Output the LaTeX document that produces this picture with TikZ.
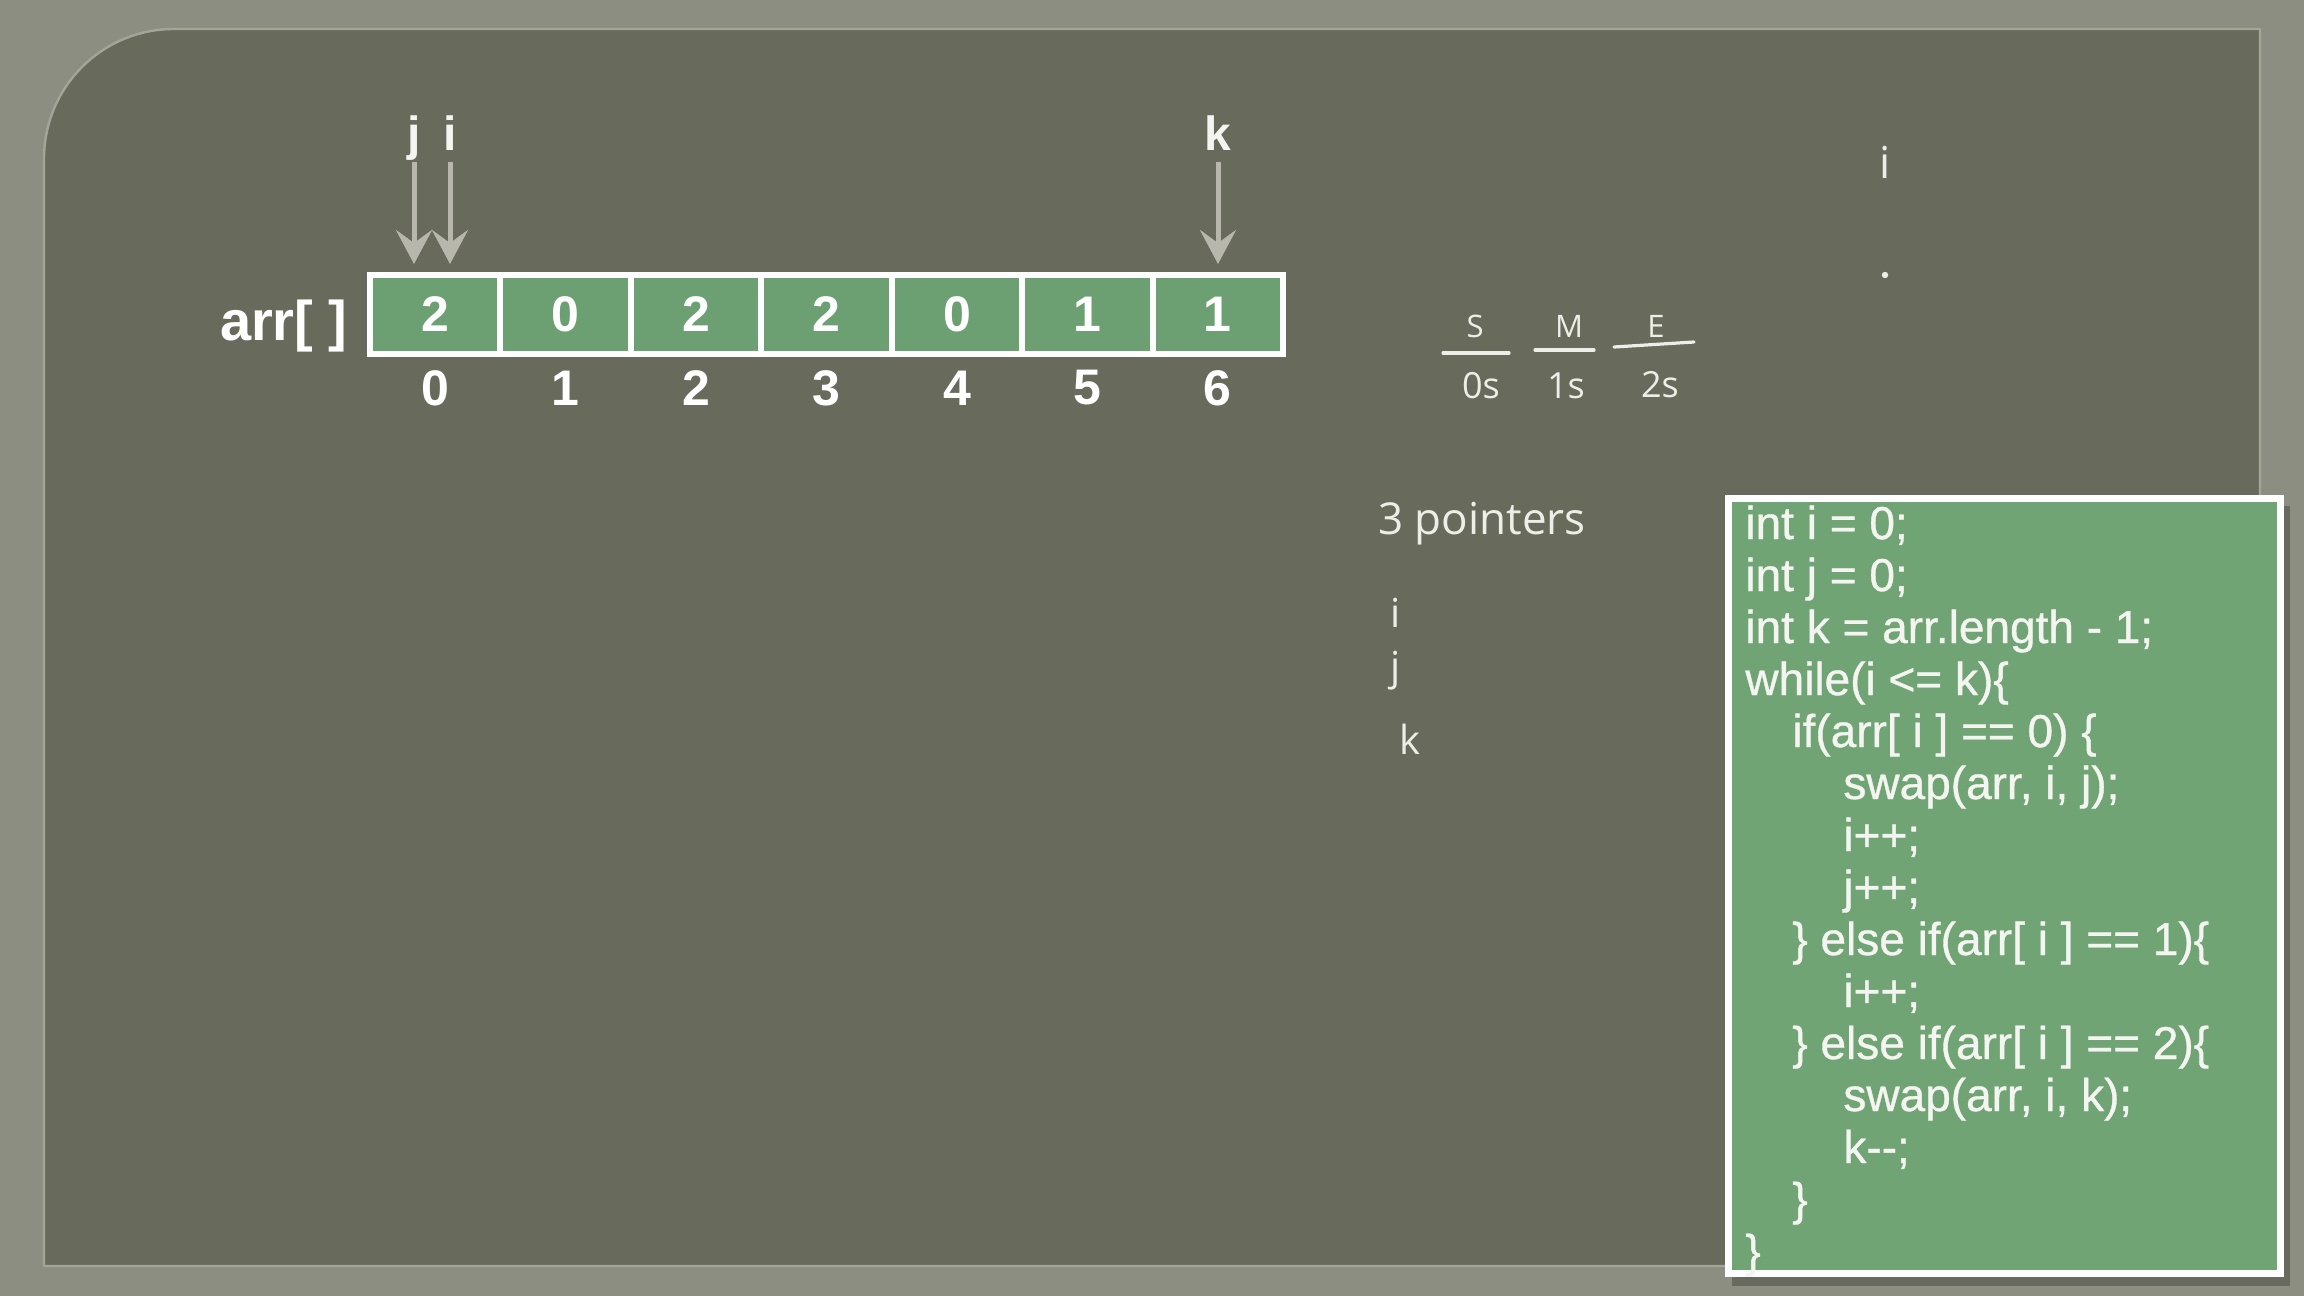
\documentclass[tikz,border=0pt]{standalone}
\usepackage{fontspec}
\setmainfont{Liberation Sans}
\newfontfamily\handfont{Open Sans}
\newfontfamily\codefont{Liberation Sans}[FakeBold=0.8]
\usetikzlibrary{arrows.meta}
\definecolor{framecol}{HTML}{8B8E80}
\definecolor{panelcol}{HTML}{686B5C}
\definecolor{edgecol}{HTML}{A2A597}
\definecolor{cellgreen}{HTML}{6CA072}
\definecolor{codegreen}{HTML}{70A475}
\definecolor{arrowgray}{HTML}{B7B7AB}
\definecolor{textwhite}{HTML}{F4F4F0}
\definecolor{chalk}{HTML}{EEEEE8}
\tikzset{
  cell/.style={draw=white, line width=3pt, fill=cellgreen, minimum width=65.2pt,
    minimum height=39.5pt, inner sep=0pt, outer sep=0pt, text=white,
    font=\bfseries\fontsize{25pt}{30pt}\selectfont},
  idx/.style={inner sep=0pt, text=white, font=\bfseries\fontsize{25pt}{30pt}\selectfont},
  ptrlabel/.style={inner sep=0pt, anchor=base, text=textwhite, font=\bfseries\fontsize{24pt}{28pt}\selectfont},
  ptr/.style={draw=arrowgray, line width=2.5pt,
    -{Stealth[length=17pt, width=18pt, inset=6.5pt]}},
  codeline/.style={inner sep=0pt, anchor=base west, text=textwhite,
    font=\codefont\fontsize{23pt}{26pt}\selectfont},
  hand/.style={inner sep=0pt, text=chalk, font=\handfont},
  stroke/.style={draw=chalk, line width=1.6pt, line cap=round}
}
\begin{document}
\begin{tikzpicture}[x=0.5pt, y=-0.5pt]
\useasboundingbox (0,0) rectangle (2304,1296);
% frame
\fill[framecol] (0,0) rectangle (2304,1296);
% panel
\fill[panelcol] (44,1266) -- (44,159) .. controls (44,87) and (102,29) .. (174,29)
  -- (2260,29) -- (2260,1266) -- cycle;
\draw[edgecol, line width=1.2pt] (44,1266) -- (44,159) .. controls (44,87) and (102,29) .. (174,29)
  -- (2260,29) -- (2260,1266) -- cycle;

% array label
\node[inner sep=0pt, anchor=base east, text=white,
  font=\bfseries\fontsize{28pt}{32pt}\selectfont] (arr) at (348,340) {arr[ ]};

% array cells and indices
\foreach \v [count=\n from 0] in {2,0,2,2,0,1,1} {
  \node[cell] (c\n) at ({370+130.43*(\n+0.5)},314.5) {\v};
  \node[idx] (ix\n) at ({370+130.43*(\n+0.5)},388) {\n};
}

% pointers
\node[ptrlabel] (lj) at (414,150) {j};
\node[ptrlabel] (li) at (450,150) {i};
\node[ptrlabel] (lk) at (1218,150) {k};
\draw[ptr, shorten >=5.5pt] ([yshift=-6pt]lj.base) -- (lj.base |- c0.north);
\draw[ptr, shorten >=5.5pt] ([yshift=-6pt]li.base) -- (li.base |- c0.north);
\draw[ptr, shorten >=5.5pt] ([yshift=-6pt]lk.base) -- (lk.base |- c6.north);

% handwritten notes
\node[hand, font=\handfont\fontsize{15.5pt}{18pt}\selectfont] (hS) at (1475,326) {S};
\node[hand, font=\handfont\fontsize{15.5pt}{18pt}\selectfont] (hM) at (1569,326) {M};
\node[hand, font=\handfont\fontsize{15.5pt}{18pt}\selectfont] (hE) at (1656,326) {E};
\draw[stroke] (1443,353) -- (1509,353);
\draw[stroke] (1535,350) -- (1594,350);
\draw[stroke] (1614,347) -- (1694,342);
\node[hand, font=\handfont\fontsize{18pt}{21pt}\selectfont] (h0) at (1481,386) {0s};
\node[hand, font=\handfont\fontsize{18pt}{21pt}\selectfont] (h1) at (1566,386) {1s};
\node[hand, font=\handfont\fontsize{18pt}{21pt}\selectfont] (h2) at (1660,385) {2s};
\node[hand, anchor=west, font=\handfont\fontsize{22pt}{26pt}\selectfont] (hp) at (1378,524) {3 pointers};
\node[hand, font=\handfont\fontsize{20pt}{24pt}\selectfont] (hi) at (1396,613) {i};
\node[hand, font=\handfont\fontsize{20pt}{24pt}\selectfont] (hj) at (1396,671) {j};
\node[hand, font=\handfont\fontsize{20pt}{24pt}\selectfont] (hk) at (1410,739) {k};
\node[hand, font=\handfont\fontsize{22pt}{26pt}\selectfont] (hti) at (1885,162) {i};
\fill[chalk] (1885,275) circle (1.6pt);

% code box
\fill[black, opacity=0.25] (1732,506) rectangle (2290,1286);
\draw[draw=white, line width=3.5pt, fill=codegreen] (1728.5,498.5) rectangle (2280.5,1273.5);
\node[codeline] (k0) at (1745,539) {int i = 0;};
\node[codeline] (k1) at (1745,591) {int j = 0;};
\node[codeline] (k2) at (1745,643) {int k = arr.length - 1;};
\node[codeline] (k3) at (1745,695) {while(i <= k)\{};
\node[codeline] (k4) at (1792,747) {if(arr[ i ] == 0) \{};
\node[codeline] (k5) at (1843,799) {swap(arr, i, j);};
\node[codeline] (k6) at (1843,851) {i++;};
\node[codeline] (k7) at (1843,903) {j++;};
\node[codeline] (k8) at (1792,955) {\} else if(arr[ i ] == 1)\{};
\node[codeline] (k9) at (1843,1007) {i++;};
\node[codeline] (k10) at (1792,1059) {\} else if(arr[ i ] == 2)\{};
\node[codeline] (k11) at (1843,1111) {swap(arr, i, k);};
\node[codeline] (k12) at (1843,1163) {k-{}-;};
\node[codeline] (k13) at (1792,1215) {\}};
\node[codeline] (k14) at (1745,1267) {\}};
\end{tikzpicture}
\end{document}
